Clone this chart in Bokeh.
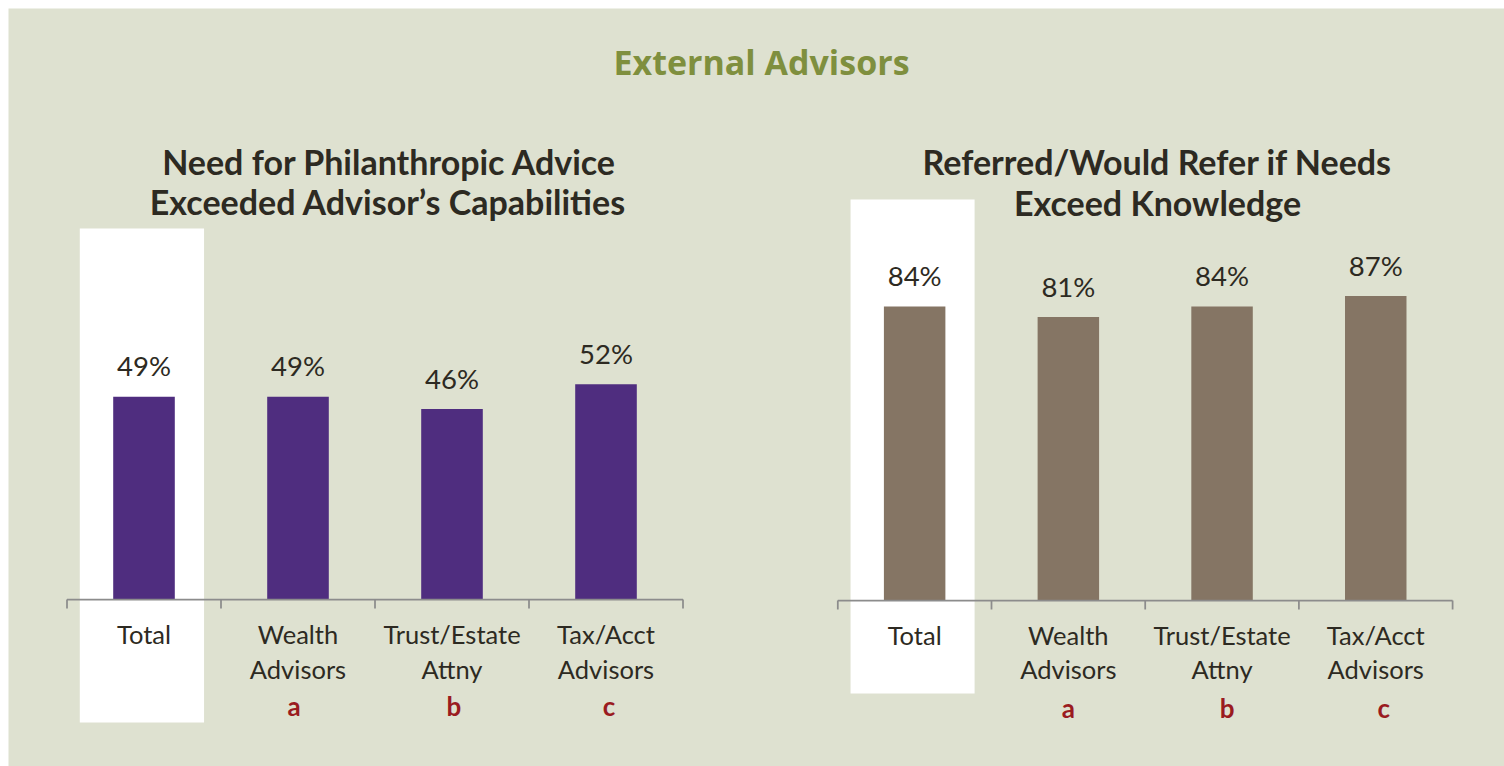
from bokeh.plotting import figure
from bokeh.models import Range1d, Spacer
from bokeh.layouts import column, row
from bokeh.core.properties import value
from bokeh.embed import file_html
from bokeh.resources import INLINE

# ---------------- data ----------------
categories = ["Total", "Wealth\nAdvisors", "Trust/Estate\nAttny", "Tax/Acct\nAdvisors"]
group_letters = ["", "a", "b", "c"]
need_exceeded = [49, 49, 46, 52]      # % Need for philanthropic advice exceeded advisor's capabilities
would_refer = [84, 81, 84, 87]        # % Referred / would refer if needs exceed knowledge
main_title = "External Advisors"
left_title = ["Need for Philanthropic Advice", "Exceeded Advisor\u2019s Capabilities"]
right_title = ["Referred/Would Refer if Needs", "Exceed Knowledge"]
highlight_category = "Total"

# ---------------- styles ----------------
BG = "#DEE1D0"
TXT = "#2D2A22"
TITLE_C = "#7F8F3E"
LETTER_C = "#9A1B1F"
AXIS_C = "#8C8C8C"
PURPLE = "#4F2D7F"
BROWN = "#857564"
FONT = "Lato"

OFF = 8            # white border at top / left
FIG_W = 1496
FIG_H = 758

p = figure(width=FIG_W, height=FIG_H,
           x_range=Range1d(OFF, OFF + FIG_W), y_range=Range1d(OFF + FIG_H, OFF),
           output_backend="svg", toolbar_location=None,
           x_axis_location=None, y_axis_location=None,
           min_border=0, min_border_left=0, min_border_right=0,
           min_border_top=0, min_border_bottom=0)
p.grid.visible = False
p.outline_line_color = None
p.background_fill_color = BG
p.border_fill_color = BG


def add_panel(name, values, bar_color, title_lines, g):
    n = len(categories)
    idx = list(range(n))
    center0 = g["axis_left"] + g["cat_w"] / 2.0
    s = g["px_per_pct"]

    def X(px):
        return (px - center0) / g["cat_w"]

    def Y(py):
        return (g["axis_y"] - py) / s

    p.extra_x_ranges[name] = Range1d(X(OFF), X(OFF + FIG_W))
    p.extra_y_ranges[name] = Range1d(Y(OFF + FIG_H), Y(OFF))
    kw = dict(x_range_name=name, y_range_name=name)

    # white highlight behind the "Total" column
    h = categories.index(highlight_category)
    p.quad(left=[h - 0.417], right=[h + 0.39], top=[Y(g["hl_top"])], bottom=[Y(g["hl_bottom"])],
           fill_color="white", line_color=None, **kw)

    # bars
    p.vbar(x=idx, top=values, bottom=0, width=0.4, fill_color=bar_color, line_color=None, **kw)

    # category axis (baseline + separators between categories)
    p.segment(x0=[-0.5], x1=[n - 0.5], y0=[0], y1=[0], line_color=AXIS_C, line_width=1.75, **kw)
    seps = [i - 0.5 for i in range(n + 1)]
    p.segment(x0=seps, x1=seps, y0=[0] * len(seps), y1=[-9.0 / s] * len(seps),
              line_color=AXIS_C, line_width=1.75, **kw)

    # value labels
    p.text(x=idx, y=values, text=[f"{v}%" for v in values], y_offset=-31,
           text_align="center", text_baseline="alphabetic",
           text_font=value(FONT), text_font_size="27.5px", text_color=TXT, **kw)

    # category labels (two lines) and significance letters
    line1 = [c.split("\n")[0] for c in categories]
    line2 = [c.split("\n")[1] if "\n" in c else "" for c in categories]
    p.text(x=idx, y=[0] * n, text=line1, y_offset=g["lab1"],
           text_align="center", text_baseline="alphabetic",
           text_font=value(FONT), text_font_size="25.5px", text_color=TXT, **kw)
    p.text(x=idx, y=[0] * n, text=line2, y_offset=g["lab2"],
           text_align="center", text_baseline="alphabetic",
           text_font=value(FONT), text_font_size="25.5px", text_color=TXT, **kw)
    p.text(x=idx, y=[0] * n, text=group_letters, y_offset=g["lab3"], x_offset=g["letter_dx"],
           text_align="center", text_baseline="alphabetic",
           text_font=value(FONT), text_font_size="26px", text_font_style="bold",
           text_color=LETTER_C, **kw)

    # panel subtitle
    for (tx, ty), t in zip(g["title_pos"], title_lines):
        p.text(x=[X(tx)], y=[Y(ty)], text=[t], text_align="center", text_baseline="alphabetic",
               text_font=value(FONT), text_font_size="34px", text_font_style="bold",
               text_color=TXT, **kw)


left_geom = dict(axis_left=66.5, cat_w=154.0, axis_y=599.0, px_per_pct=4.14,
                 hl_top=228, hl_bottom=722, lab1=34, lab2=69, lab3=106,
                 letter_dx=[0, -4, 2, 3],
                 title_pos=[(389, 161), (387.5, 201)])
right_geom = dict(axis_left=837.3, cat_w=153.7, axis_y=600.0, px_per_pct=3.5,
                  hl_top=199, hl_bottom=693, lab1=34, lab2=68, lab3=107,
                  letter_dx=[0, 0, 5, 8],
                  title_pos=[(1157, 161), (1157, 202)])

add_panel("L", need_exceeded, PURPLE, left_title, left_geom)
add_panel("R", would_refer, BROWN, right_title, right_geom)

# main title
p.text(x=[761], y=[61], text=[main_title], text_align="center", text_baseline="alphabetic",
       text_font=value("Open Sans"), text_font_size="34px", text_font_style="bold",
       text_color=TITLE_C)

layout = column(Spacer(width=FIG_W + OFF, height=OFF),
                row(Spacer(width=OFF, height=FIG_H), p, spacing=0),
                spacing=0)
open("out.html", "w").write(file_html(layout, INLINE))
